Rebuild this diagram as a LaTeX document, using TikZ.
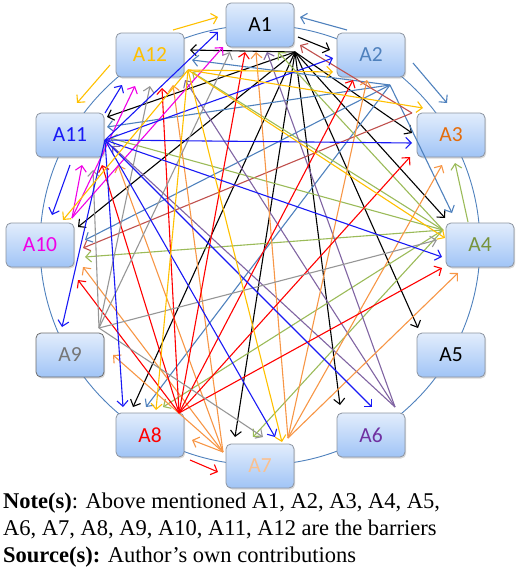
\documentclass[tikz,border=0pt]{standalone}
\usepackage{fontspec}
\setmainfont{Liberation Serif}
\newfontfamily\labfont{Carlito}
\usetikzlibrary{arrows.meta,shadows}
\definecolor{boxtop}{RGB}{226,237,252}
\definecolor{boxbot}{RGB}{160,196,246}
\definecolor{boxgray}{RGB}{140,148,160}
\definecolor{cSteel}{RGB}{79,129,189}
\definecolor{cBrown}{RGB}{192,80,77}
\definecolor{cGreen}{RGB}{155,187,89}
\definecolor{labGreen}{RGB}{119,147,60}
\definecolor{cPurple}{RGB}{128,100,162}
\definecolor{labPurple}{RGB}{112,48,160}
\definecolor{cOrange}{RGB}{247,150,70}
\definecolor{labOrange}{RGB}{228,108,10}
\definecolor{labPeach}{RGB}{250,192,143}
\definecolor{cRed}{RGB}{255,0,0}
\definecolor{cGray}{RGB}{150,150,150}
\definecolor{labGray}{RGB}{118,118,118}
\definecolor{cMag}{RGB}{240,0,230}
\definecolor{cBlue}{RGB}{25,25,245}
\definecolor{cGold}{RGB}{255,192,0}
\newcommand\fanout[3]{%
  \foreach \t/\q in {#3}{%
    \coordinate (#2-\t) at (\q);
    \draw[link,#1] (#2) -- (#2-\t);}}
\newcommand\single[5]{%
  \coordinate (#2) at (#3);
  \coordinate (#4) at (#5);
  \draw[link,#1] (#2) -- (#4);}
\begin{document}
\begin{tikzpicture}[x=1pt,y=-1pt,
  barrier/.style={draw=boxgray, line width=0.8pt, rounded corners=5pt,
    minimum width=68pt, minimum height=44pt, top color=boxtop, bottom color=boxbot,
    font=\labfont\fontsize{21.5}{24}\selectfont,
    drop shadow={shadow xshift=1.2pt, shadow yshift=-1.5pt, opacity=0.3}},
  link/.style={line width=1.1pt, -{Straight Barb[length=5.5pt,width=11pt]}},
  notetext/.style={anchor=base west, inner sep=0pt, font=\fontsize{22.5}{27}\selectfont}]
\useasboundingbox (0,0) rectangle (520,584);
% ring
\draw[cSteel, line width=0.9pt] (260,245) circle[radius=220];
% barriers
\node[barrier, text=black]     (A1)  at (260,25)  {A1};
\node[barrier, text=cSteel]    (A2)  at (371,55)  {A2};
\node[barrier, text=labOrange] (A3)  at (451,135) {A3};
\node[barrier, text=labGreen]  (A4)  at (480,245) {A4};
\node[barrier, text=black]     (A5)  at (451,355) {A5};
\node[barrier, text=labPurple] (A6)  at (371,435) {A6};
\node[barrier, text=labPeach]  (A7)  at (260,466) {A7};
\node[barrier, text=cRed]      (A8)  at (150,435) {A8};
\node[barrier, text=labGray, draw=gray!85!black] (A9) at (70,355) {A9};
\node[barrier, text=cMag]      (A10) at (40,245)  {A10};
\node[barrier, text=cBlue]     (A11) at (70,135)  {A11};
\node[barrier, text=cGold]     (A12) at (150,55)  {A12};
% origins of the fans
\coordinate (o1)  at (295,52);
\coordinate (o2)  at (390,85);
\coordinate (o3)  at (412,113);
\coordinate (o4)  at (443,230);
\coordinate (o6)  at (395,407);
\coordinate (o7a) at (223,452);
\coordinate (o7b) at (288,438);
\coordinate (o8)  at (179,413);
\coordinate (o9)  at (99,328);
\coordinate (o10) at (72,218);
\coordinate (o11) at (105,140);
\coordinate (o12) at (188,70);
% fans
\fanout{black}{o1}{12/{190,50},11/{107,117},10/{78,227},8/{133,407},7/{235,437},6/{340,405},5/{418,328},4/{445,218},3/{412,133}}
\fanout{cSteel}{o2}{12/{192,60},11/{107,127},10/{85,240},8/{146,407},4/{452,213}}
\fanout{cBrown}{o3}{1/{300,45},10/{83,248}}
\fanout{cGreen}{o4}{1/{278,52},12/{192,72},11/{110,138},10/{85,257},8/{163,407},7/{253,437}}
\fanout{cPurple}{o6}{1/{267,52},12/{185,80},11/{112,146}}
\fanout{cOrange}{o7a}{8/{192,440},9/{113,355},10/{83,267},11/{118,165},12/{173,85}}
\fanout{cOrange}{o7b}{1/{256,52},2/{367,80},3/{442,165},4/{458,273}}
\fanout{cRed}{o8}{12/{162,88},1/{245,52},2/{353,80},3/{410,157},4/{442,268},11/{102,165},10/{78,280}}
\fanout{cGray}{o9}{11/{93,170},12/{150,86},1/{230,52},4/{437,240},7/{263,437}}
\fanout{cMag}{o10}{11/{82,165},12/{135,86},1/{223,47}}
\fanout{cBlue}{o11}{1/{218,32},2/{333,58},3/{412,143},4/{442,257},6/{372,407},7/{275,437},8/{123,407},9/{62,327}}
\fanout{cGold}{o12}{2/{333,72},3/{423,108},4/{445,238},7/{282,442},8/{156,410},10/{63,220}}
% short arrows beside the ring
\single{black}{s1-2}{298,37}{t1-2}{330,50}
\single{cSteel}{s2-1}{347,30}{t2-1}{300,17}
\single{cSteel}{s2-3}{413,63}{t2-3}{447,103}
\single{cGreen}{s4-3}{468,222}{t4-3}{455,163}
\single{cGold}{s12-1}{173,30}{t12-1}{218,17}
\single{cGold}{s12-11}{110,65}{t12-11}{77,103}
\single{cBlue}{s11-12}{105,113}{t11-12}{122,85}
\single{cBlue}{s11-10}{70,165}{t11-10}{52,215}
\single{cRed}{s8-7}{190,460}{t8-7}{218,472}
% note
\node[notetext] (note1) at (3,508) {\textbf{Note(s)}: Above mentioned A1, A2, A3, A4, A5,};
\node[notetext] (note2) at (3,535) {A6, A7, A8, A9, A10, A11, A12 are the barriers};
\node[notetext] (note3) at (3,562) {\textbf{Source(s):} Author’s own contributions};
\end{tikzpicture}
\end{document}
